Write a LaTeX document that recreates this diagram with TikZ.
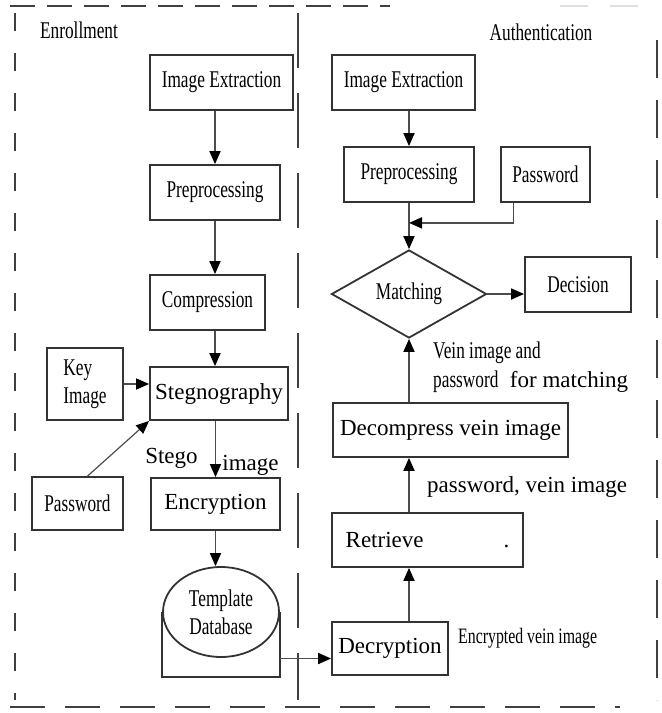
\documentclass[tikz,border=0pt]{standalone}
\usepackage{fontspec}
\setmainfont{Liberation Serif}
\newfontfamily\narrowfont[FakeStretch=0.72]{Liberation Serif}
\usetikzlibrary{arrows.meta,shapes.geometric}
\tikzset{box/.style={draw=black!80, line width=1.8pt, rectangle, inner sep=0pt},
         arr/.style={draw=black!70, line width=1.8pt, -{Triangle[length=13pt,width=11pt,fill=black,color=black]}},
         ntext/.style={font=\narrowfont\fontsize{24}{28}\selectfont},
         wtext/.style={font=\fontsize{23}{29}\selectfont},
         bord/.style={draw=black!75, line width=1.8pt}}

\begin{document}
\begin{tikzpicture}[x=1pt,y=-1pt]
  \useasboundingbox (0,0) rectangle (662,713);
  % frame and divider
  \draw[bord, dash pattern=on 25pt off 12pt] (10,6) -- (390,6);
  \draw[bord, draw=black!12, dash pattern=on 28pt off 22pt] (560,6) -- (655,6);
  \draw[bord, dash pattern=on 18pt off 22pt] (15,13) -- (15,700);
  \draw[bord, dash pattern=on 38pt off 22pt] (657,40) -- (657,700);
  \draw[bord, dash pattern=on 35pt off 20pt] (10,707) -- (620,707);
  \draw[bord, dash pattern=on 55pt off 25pt] (298,13) -- (298,700);
  \begin{scope}
   \node[ntext] (enr) at (79,30) {Enrollment};
   \node[box,ntext,minimum width=143pt,minimum height=55pt] (ie1) at (221.5,82.5) {Image Extraction};
   \node[box,ntext,minimum width=130pt,minimum height=55pt] (pp1) at (215,192.5) {Preprocessing};
   \node[box,ntext,minimum width=115pt,minimum height=55pt] (cp1) at (207.5,302.5) {Compression};
   \node[box,wtext,minimum width=138pt,minimum height=53pt] (st1) at (219,393.5) {Stegnography};
   \node[box,ntext,align=left,minimum width=76pt,minimum height=72pt] (key) at (85,384) {Key\\Image};
   \node[box,ntext,minimum width=91pt,minimum height=53pt] (pw1) at (77.5,503.5) {Password};
   \node[box,wtext,minimum width=129pt,minimum height=52pt] (en1) at (215.5,504) {Encryption};
   \node[draw=black!80,line width=1.8pt,ellipse,ntext,align=center,inner sep=0pt,
         minimum width=116pt,minimum height=90pt] (db) at (221,612) {Template\\Database};
   \draw[draw=black!80,line width=1.8pt] (db.west) -- ++(0,65) -| (db.east);
   \node[wtext] (stg) at (171.5,458) {Stego};
   \node[wtext] (img) at (250.5,465) {image};
   \draw[arr] (ie1.south -| pp1) -- (pp1.north);
   \draw[arr] (pp1.south) -- (cp1.north -| pp1.south);
   \draw[arr] (cp1.south -| pp1) -- (st1.north -| pp1);
   \draw[arr] (key.east) -- (key.east -| st1.west);
   \draw[arr, line width=1.2pt] ([xshift=10pt]pw1.north) -- (st1.south west);
   \draw[arr] (st1.south -| en1) -- (en1.north);
   \draw[arr] (en1.south) -- (en1.south |- db.north);
  \end{scope}
  \begin{scope}
   \node[ntext] (aut) at (541,32) {Authentication};
   \node[box,ntext,minimum width=143pt,minimum height=55pt] (ie2) at (403.5,82.5) {Image Extraction};
   \node[box,ntext,minimum width=130pt,minimum height=55pt] (pp2) at (409,174.5) {Preprocessing};
   \node[box,ntext,minimum width=89pt,minimum height=55pt] (pw2) at (545.5,174.5) {Password};
   \node[draw=black!80,line width=1.8pt,diamond,ntext,inner sep=0pt,
         minimum width=155pt,minimum height=74pt] (mt) at (409,294) {Matching};
   \node[box,ntext,minimum width=106pt,minimum height=55pt] (dec) at (578,284.5) {Decision};
   \node[box,wtext,minimum width=235pt,minimum height=54pt] (dcm) at (450.5,430) {Decompress vein image};
   \node[box,wtext,minimum width=191pt,minimum height=54pt] (ret) at (427.5,540) {Retrieve\hspace{80pt}.};
   \node[box,wtext,minimum width=116pt,minimum height=53pt] (dcr) at (390,648.5) {Decryption};
   \node[wtext,anchor=west,align=left,inner sep=0pt] (vml) at (433,367)
        {{\narrowfont\fontsize{24}{29}\selectfont Vein image and}\\
         {\narrowfont\fontsize{24}{29}\selectfont password}\ \ for matching};
   \node[wtext,anchor=west,inner sep=0pt] (pvl) at (427,487) {password, vein image};
   \node[anchor=west,inner sep=0pt,font=\narrowfont\fontsize{22}{24}\selectfont] (evl) at (458,638) {Encrypted vein image};
   \coordinate (pwin) at ([yshift=-20pt]pp2.south);
   \coordinate (dcin) at ([yshift=-10pt]dcr.west);
   \draw[arr] (ie2.south -| pp2) -- (pp2.north);
   \draw[arr] (pp2.south) -- (mt.north);
   \draw[arr] ([xshift=-32pt]pw2.south) |- (pwin);
   \draw[arr] (mt.east) -- (dec.west |- mt.east);
   \draw[arr] (dcm.north -| mt) -- (mt.south);
   \draw[arr] (ret.north -| mt) -- (dcm.south -| mt);
   \draw[arr] (dcr.north -| mt) -- (ret.south -| mt);
   \draw[arr] (db.east |- dcin) -- (dcin);
  \end{scope}
\end{tikzpicture}
\end{document}
